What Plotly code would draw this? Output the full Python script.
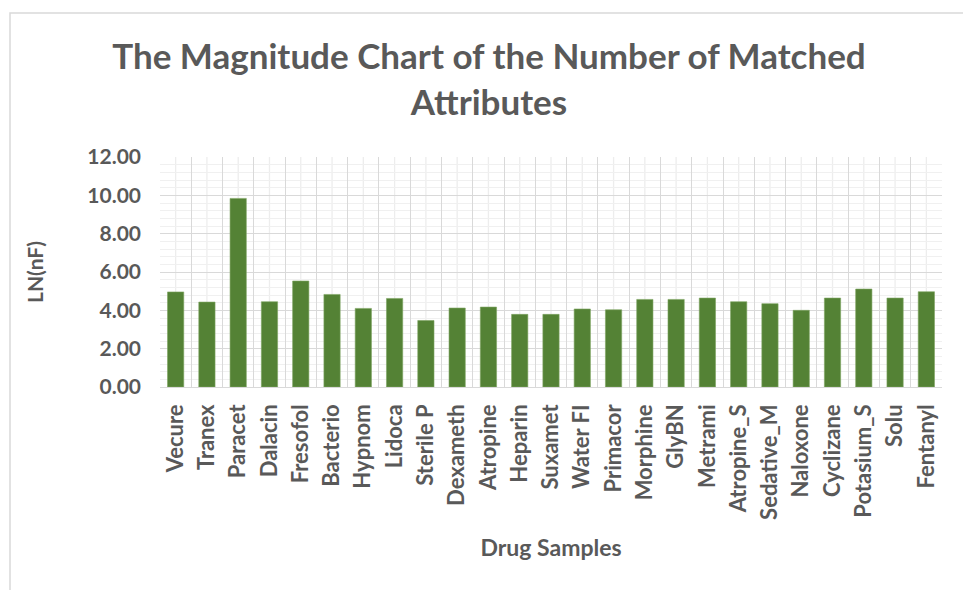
import plotly.graph_objects as go

# Drug samples and their LN(nF) values
drugs = ["Vecure", "Tranex", "Paracet", "Dalacin", "Fresofol", "Bacterio", "Hypnom",
         "Lidoca", "Sterile P", "Dexameth", "Atropine", "Heparin", "Suxamet", "Water FI",
         "Primacor", "Morphine", "GlyBN", "Metrami", "Atropine_S", "Sedative_M",
         "Naloxone", "Cyclizane", "Potasium_S", "Solu", "Fentanyl"]
ln_nf = [4.96, 4.43, 9.84, 4.45, 5.53, 4.83, 4.10,
         4.62, 3.47, 4.12, 4.17, 3.79, 3.79, 4.07,
         4.03, 4.57, 4.57, 4.64, 4.45, 4.35,
         4.00, 4.64, 5.11, 4.64, 4.97]
y_ticks = [0, 2, 4, 6, 8, 10, 12]

W, H = 963, 590
L, R, T, B = 160, 942, 157, 387  # plot area in pixels
FONT = "Lato"
GREY = "#595959"

fig = go.Figure(go.Bar(
    x=drugs, y=ln_nf,
    marker=dict(color="#548235", line=dict(color="#7da462", width=0.6)),
))

# light centre lines through each category
for d in drugs:
    fig.add_shape(type="line", xref="x", yref="paper", x0=d, x1=d, y0=0, y1=1,
                  line=dict(color="#ededed", width=1.3), layer="below")

# outer chart frame
def px_x(p):
    return (p - L) / (R - L)

def px_y(p):
    return (B - p) / (B - T)

fig.add_shape(type="rect", xref="paper", yref="paper",
              x0=px_x(10), x1=px_x(1000), y0=px_y(13), y1=px_y(700),
              line=dict(color="#d9d9d9", width=1.5), fillcolor="rgba(0,0,0,0)")

fig.update_layout(
    width=W, height=H,
    margin=dict(l=L, r=W - R, t=T, b=H - B),
    paper_bgcolor="white", plot_bgcolor="white",
    bargap=0.48,
    showlegend=False,
    title=dict(
        text="The Magnitude Chart of the Number of Matched<br>Attributes",
        x=489 / W, xref="container", xanchor="center",
        y=1 - 69 / H, yref="container", yanchor="middle",
        font=dict(family=FONT, size=35, color=GREY, weight="bold"),
    ),
    font=dict(family=FONT, color=GREY),
)

fig.update_xaxes(
    type="category",
    tickson="boundaries",
    showgrid=True, gridcolor="#d9d9d9", gridwidth=1.3,
    ticks="", tickangle=-90,
    ticklabelstandoff=12,
    tickfont=dict(family=FONT, size=22, color=GREY, weight="bold"),
    showline=False, zeroline=False,
    title=dict(text="Drug Samples", standoff=20,
               font=dict(family=FONT, size=23, color=GREY, weight="bold")),
)

fig.update_yaxes(
    range=[0, 12],
    tickvals=y_ticks, tickformat=".2f",
    showgrid=True, gridcolor="#d9d9d9", gridwidth=1.3,
    minor=dict(dtick=0.4, showgrid=True, gridcolor="#f0f0f0", gridwidth=1.3),
    zeroline=True, zerolinecolor="#d9d9d9", zerolinewidth=1.3,
    ticks="", ticklabelstandoff=18,
    tickfont=dict(family=FONT, size=21, color=GREY, weight="bold"),
    title=dict(text="LN(nF)", standoff=37,
               font=dict(family=FONT, size=21, color=GREY, weight="bold")),
)

fig.write_html("out.html")
